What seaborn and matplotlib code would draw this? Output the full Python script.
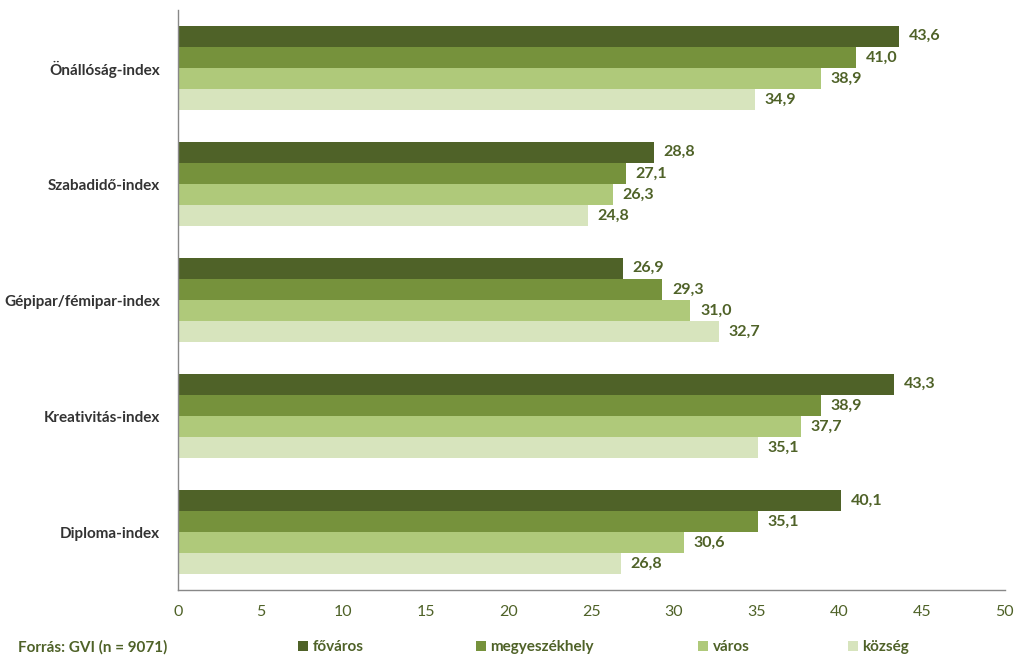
import matplotlib
matplotlib.use("Agg")
import matplotlib.pyplot as plt
import seaborn as sns
import pandas as pd
from matplotlib.patches import Patch

categories = ["Önállóság-index", "Szabadidő-index", "Gépipar/fémipar-index",
              "Kreativitás-index", "Diploma-index"]
series = ["főváros", "megyeszékhely", "város", "község"]
fovaros = [43.6, 28.8, 26.9, 43.3, 40.1]
megyeszekhely = [41.0, 27.1, 29.3, 38.9, 35.1]
varos = [38.9, 26.3, 31.0, 37.7, 30.6]
kozseg = [34.9, 24.8, 32.7, 35.1, 26.8]
xticks = [0, 5, 10, 15, 20, 25, 30, 35, 40, 45, 50]
source = "Forrás: GVI (n = 9071)"

colors = ["#4F6228", "#76923C", "#AFC97A", "#D7E4BD"]

rows = []
for s, vals in zip(series, [fovaros, megyeszekhely, varos, kozseg]):
    for c, v in zip(categories, vals):
        rows.append({"cat": c, "series": s, "val": v})
df = pd.DataFrame(rows)

sns.set_style("white")
plt.rcParams["font.family"] = ["Lato", "DejaVu Sans"]

fig = plt.figure(figsize=(10.24, 6.69), dpi=100)
ax = fig.add_axes([0.1738, 0.118, 0.8072, 0.867])
sns.barplot(data=df, y="cat", x="val", hue="series", order=categories,
            hue_order=series, palette=colors, orient="h", width=0.73,
            saturation=1, ax=ax, legend=False, errorbar=None, linewidth=0)

txtcol = "#4F6228"
for cont in ax.containers:
    ax.bar_label(cont, labels=[f"{v:.1f}".replace(".", ",") for v in cont.datavalues],
                 padding=7, fontsize=11.5, fontweight="bold", color=txtcol)

ax.set_xlim(0, 50)
ax.set_ylim(4.5, -0.5)
ax.set_xticks(xticks)
ax.set_xticklabels([str(t) for t in xticks], fontsize=11.5, color=txtcol)
ax.set_yticks(range(len(categories)))
ax.set_yticklabels(categories, fontsize=11, fontweight="bold", color="#333333")
ax.set_yticks([i - 0.5 for i in range(len(categories) + 1)], minor=True)
ax.tick_params(axis="y", which="major", length=0, pad=13)
ax.tick_params(axis="y", which="minor", length=5, color="#888888", direction="out")
ax.tick_params(axis="x", length=5, color="#888888", direction="out", pad=6)
ax.set_xlabel("")
ax.set_ylabel("")
for side in ["top", "right"]:
    ax.spines[side].set_visible(False)
for side in ["left", "bottom"]:
    ax.spines[side].set_color("#888888")
    ax.spines[side].set_linewidth(1)

fig.text(18 / 1024, 1 - 647 / 669, source, fontsize=11, fontweight="bold",
         color=txtcol, va="center", ha="left")

legend_x = [298, 476, 698, 848]
for c, s, lx in zip(colors, series, legend_x):
    leg = fig.legend([Patch(facecolor=c, edgecolor="none")], [s], loc="center left",
                     bbox_to_anchor=(lx / 1024, 1 - 647 / 669), frameon=False,
                     handlelength=0.7, handleheight=0.7, handletextpad=0.35,
                     borderaxespad=0, borderpad=0)
    for t in leg.get_texts():
        t.set_color(txtcol)
        t.set_fontsize(11)
        t.set_fontweight("bold")

fig.savefig("out.png", dpi=100)
